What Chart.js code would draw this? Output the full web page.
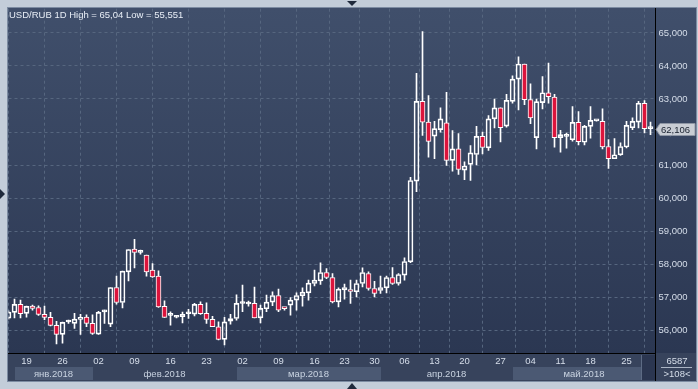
<!DOCTYPE html>
<html>
<head>
<meta charset="utf-8">
<script src="https://cdn.jsdelivr.net/npm/chart.js@4.4.1/dist/chart.umd.min.js"></script>
<style>
    html, body { margin: 0; padding: 0; background: #c3cdd9; }
    #wrap { position: relative; width: 698px; height: 389px; overflow: hidden; }
    #title {
        position: absolute; left: 9px; top: 9px;
        font: 9.5px "Liberation Sans", Arial, sans-serif;
        color: #e8eef6; white-space: nowrap;
    }
</style>
</head>
<body>
<div id="wrap">
    <canvas id="chartRef" width="698" height="389"></canvas>
    <div id="title">USD/RUB 1D High = 65,04 Low = 55,551</div>
</div>
<script>
// daily candles, oldest first
const openPrices = [
    56.363, 56.535, 56.777, 56.505, 56.725, 56.685, 56.475, 56.384, 56.143, 55.870,
    56.245, 56.203, 56.324, 56.393, 56.203, 55.879, 56.550, 56.181, 57.290, 56.837,
    57.763, 58.450, 58.355, 58.270, 57.814, 57.633, 56.716, 56.445, 56.390, 56.403,
    56.495, 56.484, 56.777, 56.505, 56.324, 56.100, 55.720, 56.270, 56.350, 56.805,
    56.790, 56.807, 56.372, 56.645, 56.847, 57.048, 56.656, 56.756, 56.907, 57.038,
    57.128, 57.412, 57.490, 57.744, 57.593, 56.856, 57.220, 57.230, 57.160, 57.412,
    57.714, 57.260, 57.200, 57.280, 57.593, 57.412, 57.663, 58.067, 60.510, 62.930,
    62.300, 61.875, 62.070, 62.280, 61.140, 61.490, 60.845, 61.020, 61.320, 61.870,
    61.520, 62.400, 62.730, 62.180, 62.930, 63.600, 64.060, 62.980, 61.830, 62.890,
    63.190, 63.060, 61.830, 61.870, 61.765, 62.290, 61.690, 62.170, 62.335, 62.320,
    61.560, 61.190, 61.310, 61.545, 62.130, 62.300, 62.870, 62.100
];
const highPrices = [
    56.580, 56.937, 56.907, 56.725, 56.756, 56.735, 56.725, 56.535, 56.263, 56.240,
    56.300, 56.505, 56.475, 56.464, 56.464, 56.565, 56.605, 57.290, 57.633, 57.784,
    58.440, 58.752, 58.420, 58.270, 58.016, 57.793, 56.886, 56.555, 56.420, 56.544,
    56.625, 56.807, 56.856, 56.826, 56.420, 56.250, 56.384, 56.475, 57.065, 57.360,
    56.877, 57.300, 56.756, 57.058, 57.157, 57.240, 56.660, 56.988, 57.129, 57.277,
    57.512, 57.814, 58.036, 57.864, 57.714, 57.280, 57.390, 57.512, 57.512, 57.884,
    57.763, 57.480, 57.633, 57.633, 57.894, 57.714, 58.186, 60.630, 63.780, 65.040,
    63.100, 62.320, 62.730, 63.205, 62.046, 61.950, 61.100, 61.590, 62.170, 62.000,
    62.500, 63.000, 62.730, 63.140, 63.700, 64.280, 64.060, 63.460, 63.000, 63.680,
    64.090, 63.140, 62.050, 61.970, 62.770, 62.620, 62.200, 62.770, 62.360, 62.700,
    61.770, 61.800, 61.670, 62.320, 62.430, 62.930, 62.950, 62.300
];
const lowPrices = [
    56.330, 56.372, 56.372, 56.393, 56.605, 56.445, 56.312, 56.130, 55.580, 55.600,
    56.200, 56.051, 55.870, 56.100, 55.870, 55.870, 56.203, 56.100, 56.786, 56.675,
    57.490, 57.883, 58.300, 57.633, 57.593, 56.686, 56.384, 56.150, 56.370, 56.220,
    56.350, 56.430, 56.475, 56.203, 56.100, 55.700, 55.551, 56.180, 56.300, 56.555,
    56.725, 56.372, 56.220, 56.555, 56.736, 56.555, 56.600, 56.450, 56.605, 56.725,
    56.907, 57.340, 57.380, 57.560, 56.826, 56.705, 56.937, 56.807, 57.008, 57.310,
    57.210, 57.008, 57.110, 57.128, 57.380, 57.360, 57.512, 58.040, 60.190, 61.900,
    61.240, 61.190, 61.995, 60.990, 60.815, 60.715, 60.560, 60.530, 61.000, 61.340,
    61.440, 62.120, 61.700, 62.150, 62.870, 62.670, 62.830, 62.250, 61.490, 62.700,
    62.870, 61.540, 61.390, 61.510, 61.720, 61.610, 61.610, 61.810, 62.330, 61.490,
    60.900, 61.190, 61.290, 61.520, 62.070, 62.120, 61.970, 61.920
];
const closePrices = [
    56.544, 56.777, 56.495, 56.716, 56.655, 56.475, 56.384, 56.143, 55.870, 56.233,
    56.255, 56.333, 56.372, 56.203, 55.900, 56.535, 56.560, 57.290, 56.837, 57.784,
    58.440, 58.349, 58.365, 57.763, 57.611, 56.705, 56.384, 56.455, 56.396, 56.475,
    56.505, 56.777, 56.495, 56.324, 56.100, 55.720, 56.250, 56.350, 56.807, 56.815,
    56.800, 56.372, 56.656, 56.847, 57.048, 56.605, 56.650, 56.907, 57.048, 57.149,
    57.421, 57.512, 57.744, 57.593, 56.856, 57.240, 57.290, 57.170, 57.410, 57.744,
    57.260, 57.110, 57.290, 57.593, 57.412, 57.684, 58.077, 60.530, 62.930, 62.300,
    61.715, 62.100, 62.400, 61.140, 61.490, 60.865, 60.970, 61.370, 61.870, 61.530,
    62.400, 62.730, 62.130, 62.960, 63.600, 64.060, 62.980, 62.430, 62.920, 63.190,
    63.070, 61.830, 61.920, 61.880, 62.290, 61.705, 62.170, 62.350, 62.345, 61.545,
    61.190, 61.310, 61.560, 62.200, 62.320, 62.870, 62.100, 62.106
];

// price axis
const priceTicks = [56, 57, 58, 59, 60, 61, 62, 63, 64, 65];

// week labels sit on these candles
const weekTickIdx = [3, 9, 15, 21, 27, 33, 39, 45, 51, 56, 61, 66, 71, 76, 82, 87, 92, 97, 103];
const weekTickLabels = ["19", "26", "02", "09", "16", "23", "02", "09", "16", "23", "30", "06", "13", "20", "27", "04", "11", "18", "25"];

// month strip: label, first candle, shaded or not
const monthLabels = ["янв.2018", "фев.2018", "мар.2018", "апр.2018", "май.2018"];
const monthStartIdx = [1, 14, 38, 62, 84];
const monthShaded = [true, false, true, false, true];

const volumeLabel = "6587";

const FONT = "Liberation Sans, Arial, sans-serif";
const UP_FILL = "rgba(0,0,0,0)";
const DOWN_FILL = "#dc143c";

const bodies = openPrices.map((o, i) => ({
    x: i,
    y: [Math.min(o, closePrices[i]), Math.max(o, closePrices[i])],
}));
const upperWicks = openPrices.map((o, i) => ({
    x: i,
    y: [Math.max(o, closePrices[i]), highPrices[i]],
}));
const lowerWicks = openPrices.map((o, i) => ({
    x: i,
    y: [lowPrices[i], Math.min(o, closePrices[i])],
}));
const bodyColors = openPrices.map((o, i) => (closePrices[i] < o ? DOWN_FILL : UP_FILL));

const fmtPrice = (v) => v.toFixed(3).replace(".", ",");

// frame, panels and the bottom strip behind the chart
const backdrop = {
    id: "backdrop",
    beforeDraw(chart) {
        const ctx = chart.ctx;
        const { left, right, top, bottom } = chart.chartArea;
        const xs = chart.scales.x;
        ctx.save();
        ctx.fillStyle = "#c3cdd9";
        ctx.fillRect(0, 0, 698, 389);
        ctx.fillStyle = "#7d8ca2";
        ctx.fillRect(7, 7, 690, 375);

        const grad = ctx.createLinearGradient(0, top, 0, bottom);
        grad.addColorStop(0, "#404f6b");
        grad.addColorStop(1, "#2b3752");
        ctx.fillStyle = grad;
        ctx.fillRect(8, 8, 688, bottom - 8);

        ctx.fillStyle = "#37435c";
        ctx.fillRect(8, bottom, 688, 381 - bottom);

        monthStartIdx.forEach((s, i) => {
            if (!monthShaded[i]) return;
            const x0 = Math.round(xs.getPixelForValue(s));
            const x1 = i + 1 < monthStartIdx.length ? Math.round(xs.getPixelForValue(monthStartIdx[i + 1])) : Math.round(right);
            ctx.fillStyle = "#4b5973";
            ctx.fillRect(x0, 367, x1 - x0, 13);
        });

        // little scroll block at the right end
        ctx.fillStyle = "#2b3650";
        ctx.fillRect(642, 355, 13, 25);
        ctx.fillStyle = "#5d6b84";
        ctx.fillRect(641, 355, 1, 25);
        ctx.restore();
    },
    afterDraw(chart) {
        const ctx = chart.ctx;
        const { left, right, top, bottom } = chart.chartArea;
        const xs = chart.scales.x;
        const ys = chart.scales.y;
        ctx.save();

        // axis lines
        ctx.fillStyle = "#000";
        ctx.fillRect(Math.floor(right), 8, 1, 373);
        ctx.fillRect(8, bottom, Math.floor(right) - 8, 1);

        // month names
        ctx.font = "9.5px " + FONT;
        ctx.fillStyle = "#c9d3e1";
        ctx.textAlign = "center";
        ctx.textBaseline = "middle";
        monthStartIdx.forEach((s, i) => {
            const x0 = xs.getPixelForValue(s);
            const x1 = i + 1 < monthStartIdx.length ? xs.getPixelForValue(monthStartIdx[i + 1]) : right;
            ctx.fillText(monthLabels[i], (x0 + x1) / 2, 374);
        });

        // last price tag
        const last = closePrices[closePrices.length - 1];
        const py = Math.round(ys.getPixelForValue(last)) + 0.5;
        ctx.beginPath();
        ctx.moveTo(656, py);
        ctx.lineTo(660, py - 6);
        ctx.lineTo(695, py - 6);
        ctx.lineTo(695, py + 6);
        ctx.lineTo(660, py + 6);
        ctx.closePath();
        ctx.fillStyle = "#c9cdd4";
        ctx.fill();
        ctx.strokeStyle = "#8e96a4";
        ctx.lineWidth = 1;
        ctx.stroke();
        ctx.fillStyle = "#18202e";
        ctx.textAlign = "left";
        ctx.fillText(fmtPrice(last), 661, py + 0.5);

        // counters in the corner
        ctx.fillStyle = "#d6deea";
        ctx.textAlign = "center";
        ctx.fillText(volumeLabel, 677, 361);
        ctx.fillText(">" + openPrices.length + "<", 677, 374);
        ctx.fillStyle = "#aab4c4";
        ctx.fillRect(661, 367, 31, 1);

        // scroll arrows on the frame
        ctx.fillStyle = "#1f2a3c";
        ctx.beginPath();
        ctx.moveTo(347, 1); ctx.lineTo(357, 1); ctx.lineTo(352, 6); ctx.closePath();
        ctx.fill();
        ctx.beginPath();
        ctx.moveTo(347, 389); ctx.lineTo(357, 389); ctx.lineTo(352, 383); ctx.closePath();
        ctx.fill();
        ctx.beginPath();
        ctx.moveTo(0, 189); ctx.lineTo(5, 194); ctx.lineTo(0, 199); ctx.closePath();
        ctx.fill();
        ctx.restore();
    },
};

const barCommon = {
    grouped: false,
    barPercentage: 1,
    categoryPercentage: 1,
};

const chartRef = document.getElementById("chartRef");
chartRef.chart = new Chart(chartRef.getContext("2d"), {
    type: "bar",
    data: {
        datasets: [
            {
                ...barCommon,
                label: "body",
                data: bodies,
                backgroundColor: bodyColors,
                borderColor: "#ffffff",
                borderWidth: 1,
                borderSkipped: false,
                maxBarThickness: 5,
                minBarLength: 2,
                order: 0,
            },
            {
                ...barCommon,
                label: "upper wick",
                data: upperWicks,
                backgroundColor: "#ffffff",
                borderWidth: 0,
                maxBarThickness: 1,
                order: 1,
            },
            {
                ...barCommon,
                label: "lower wick",
                data: lowerWicks,
                backgroundColor: "#ffffff",
                borderWidth: 0,
                maxBarThickness: 1,
                order: 2,
            },
        ],
    },
    options: {
        responsive: false,
        animation: false,
        devicePixelRatio: 1,
        layout: { padding: { left: 8.5, top: 8, right: 0, bottom: 8 } },
        plugins: {
            legend: { display: false },
            tooltip: { enabled: false },
        },
        scales: {
            x: {
                type: "linear",
                min: 0,
                max: 647 / 6,
                offset: false,
                afterFit: (s) => { s.height = 28; },
                afterBuildTicks: (s) => { s.ticks = weekTickIdx.map((v) => ({ value: v })); },
                grid: { color: "#56667f", drawTicks: false, lineWidth: 1 },
                border: { display: false, dash: [3, 3] },
                ticks: {
                    color: "#d6deea",
                    font: { family: FONT, size: 9.5 },
                    padding: 3,
                    maxRotation: 0,
                    autoSkip: false,
                    callback: (v, i) => weekTickLabels[i],
                },
            },
            y: {
                position: "right",
                min: 55.306,
                max: 65.735,
                afterFit: (s) => { s.width = 42.5; },
                afterBuildTicks: (s) => { s.ticks = priceTicks.map((v) => ({ value: v })); },
                grid: { color: "#56667f", drawTicks: false, lineWidth: 1 },
                border: { display: false, dash: [3, 3] },
                ticks: {
                    color: "#d6deea",
                    font: { family: FONT, size: 9.5 },
                    padding: 3,
                    callback: (v) => fmtPrice(v),
                },
            },
        },
    },
    plugins: [backdrop],
});
</script>
</body>
</html>
